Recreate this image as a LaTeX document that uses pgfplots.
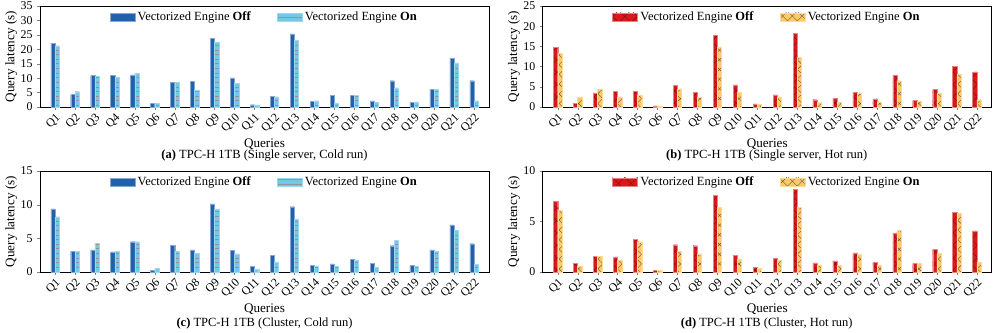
\documentclass[border=0pt]{standalone}
\usepackage{fontspec}
\setmainfont{Liberation Serif}
\usepackage{pgfplots}
\pgfplotsset{compat=1.18}
\usepackage{pgfplotstable}
\usetikzlibrary{patterns.meta}

\definecolor{offblue}{HTML}{2060AC}
\definecolor{onblue}{HTML}{74C7E7}
\definecolor{offred}{HTML}{D7191C}
\definecolor{onorange}{HTML}{FFCA66}

% cold / hot, single server / cluster
\pgfplotstableread{
q off on
1 22.1 21.2
2 4.3 5.3
3 10.9 10.6
4 10.9 10.4
5 11.1 11.7
6 1.3 1.2
7 8.6 8.6
8 9.0 5.9
9 23.9 22.6
10 10.1 8.1
11 0.8 0.7
12 3.8 3.5
13 25.3 23.1
14 2.0 2.1
15 4.1 1.3
16 4.1 4.0
17 2.1 1.6
18 9.1 6.6
19 1.6 1.8
20 6.2 6.0
21 16.9 15.3
22 9.1 2.1
}\coldsingle
\pgfplotstableread{
q off on
1 14.7 13.2
2 0.9 2.5
3 3.5 4.3
4 3.8 2.5
5 3.9 3.0
6 0.3 0.3
7 5.4 4.5
8 3.7 2.5
9 17.8 14.9
10 5.5 3.7
11 0.8 0.6
12 3.0 2.5
13 18.2 12.3
14 1.8 1.2
15 2.2 1.1
16 3.7 3.5
17 2.0 1.3
18 7.9 6.5
19 1.6 1.5
20 4.3 3.5
21 10.0 8.2
22 8.7 1.8
}\hotsingle
\pgfplotstableread{
q off on
1 9.36 8.17
2 3.1 3.1
3 3.3 4.3
4 3.0 3.1
5 4.5 4.5
6 0.25 0.55
7 4.0 3.1
8 3.3 2.8
9 10.1 9.36
10 3.2 2.7
11 0.8 0.45
12 2.5 1.5
13 9.7 7.9
14 1.0 0.9
15 1.2 0.85
16 1.9 1.8
17 1.3 0.7
18 3.9 4.7
19 0.95 0.9
20 3.3 3.1
21 7.0 6.2
22 4.2 1.1
}\coldcluster
\pgfplotstableread{
q off on
1 7.0 6.1
2 0.86 0.56
3 1.55 1.55
4 1.5 1.2
5 3.2 3.0
6 0.17 0.17
7 2.7 2.05
8 2.6 1.8
9 7.6 6.4
10 1.65 1.3
11 0.46 0.36
12 1.35 1.2
13 8.15 6.37
14 0.9 0.66
15 1.1 0.66
16 1.9 1.75
17 0.96 0.63
18 3.86 4.1
19 0.83 0.86
20 2.24 1.85
21 5.94 5.78
22 4.06 0.96
}\hotcluster

\pgfplotsset{
  qpanel/.style={
    scale only axis, width=359.2pt, height=80.8pt, anchor=south west,
    ybar, bar width=0.21, ymin=0, xmin=0.25, xmax=22.75,
    xtick={1,...,22},
    xticklabels={Q1,Q2,Q3,Q4,Q5,Q6,Q7,Q8,Q9,Q10,Q11,Q12,Q13,Q14,Q15,Q16,Q17,Q18,Q19,Q20,Q21,Q22},
    x tick label style={rotate=45, anchor=north east, inner sep=1pt},
    tick label style={font=\fontsize{9.5}{10}\selectfont},
    /pgf/number format/assume math mode=true,
    tick align=outside, xtick pos=bottom, ytick pos=left,
    major tick length=2.5pt,
    axis line style={line width=0.6pt},
    xlabel={Queries}, ylabel={Query latency (s)},
    label style={font=\fontsize{10.5}{11}\selectfont},
    xlabel style={at={(axis description cs:0.5,-0.37)}, anchor=center},
    ylabel style={at={(axis description cs:-0.064,0.5)}, anchor=center},
    legend style={at={(0.5,0.985)}, anchor=north, draw=none, fill=none,
      legend columns=2, font=\fontsize{10}{11}\selectfont, inner sep=1pt,
      /tikz/every even column/.append style={column sep=19pt}},
    legend image code/.code={\draw[##1] (0pt,-3.2pt) rectangle (20pt,3.2pt);},
  },
  blueoff/.style={fill=offblue, draw=offblue!55!white, line width=0.3pt, bar shift=-0.105},
  blueon/.style={fill=onblue, draw=onblue!70!white, line width=0.3pt, bar shift=0.105,
    postaction={pattern={Lines[angle=0,distance=3.7pt,line width=0.5pt]}, pattern color=gray!85}},
  redoff/.style={fill=offred, draw=offred!55!white, line width=0.3pt, bar shift=-0.105,
    postaction={pattern={Hatch[angle=45,distance=7pt,line width=0.3pt]}, pattern color=offred!55!black}},
  orangeon/.style={fill=onorange, draw=onorange!70!white, line width=0.3pt, bar shift=0.105,
    postaction={pattern={Hatch[angle=45,distance=5.5pt,line width=0.3pt]}, pattern color=gray!70!black}},
}

\begin{document}
\begin{tikzpicture}
\path[use as bounding box] (0,0) rectangle (796.8pt,265.6pt);

\begin{axis}[qpanel, at={(32pt,180pt)}, ymax=35, ytick={0,5,...,35}]
\addplot[blueoff] table[x=q,y=off] {\coldsingle};
\addplot[blueon] table[x=q,y=on] {\coldsingle};
\legend{Vectorized Engine \textbf{Off}, Vectorized Engine \textbf{On}}
\end{axis}

\begin{axis}[qpanel, at={(434.2pt,180pt)}, ymax=25, ytick={0,5,...,25}]
\addplot[redoff] table[x=q,y=off] {\hotsingle};
\addplot[orangeon] table[x=q,y=on] {\hotsingle};
\legend{Vectorized Engine \textbf{Off}, Vectorized Engine \textbf{On}}
\end{axis}

\begin{axis}[qpanel, at={(32pt,48pt)}, ymax=15, ytick={0,5,10,15}]
\addplot[blueoff] table[x=q,y=off] {\coldcluster};
\addplot[blueon] table[x=q,y=on] {\coldcluster};
\legend{Vectorized Engine \textbf{Off}, Vectorized Engine \textbf{On}}
\end{axis}

\begin{axis}[qpanel, at={(434.2pt,48pt)}, ymax=10, ytick={0,5,10}]
\addplot[redoff] table[x=q,y=off] {\hotcluster};
\addplot[orangeon] table[x=q,y=on] {\hotcluster};
\legend{Vectorized Engine \textbf{Off}, Vectorized Engine \textbf{On}}
\end{axis}

\node[font=\fontsize{10}{11}\selectfont] at (211.6pt,140.8pt) {\textbf{(a)} TPC-H 1TB (Single server, Cold run)};
\node[font=\fontsize{10}{11}\selectfont] at (613.4pt,140.8pt) {\textbf{(b)} TPC-H 1TB (Single server, Hot run)};
\node[font=\fontsize{10}{11}\selectfont] at (211.6pt,7.2pt) {\textbf{(c)} TPC-H 1TB (Cluster, Cold run)};
\node[font=\fontsize{10}{11}\selectfont] at (613.4pt,7.2pt) {\textbf{(d)} TPC-H 1TB (Cluster, Hot run)};
\end{tikzpicture}
\end{document}
